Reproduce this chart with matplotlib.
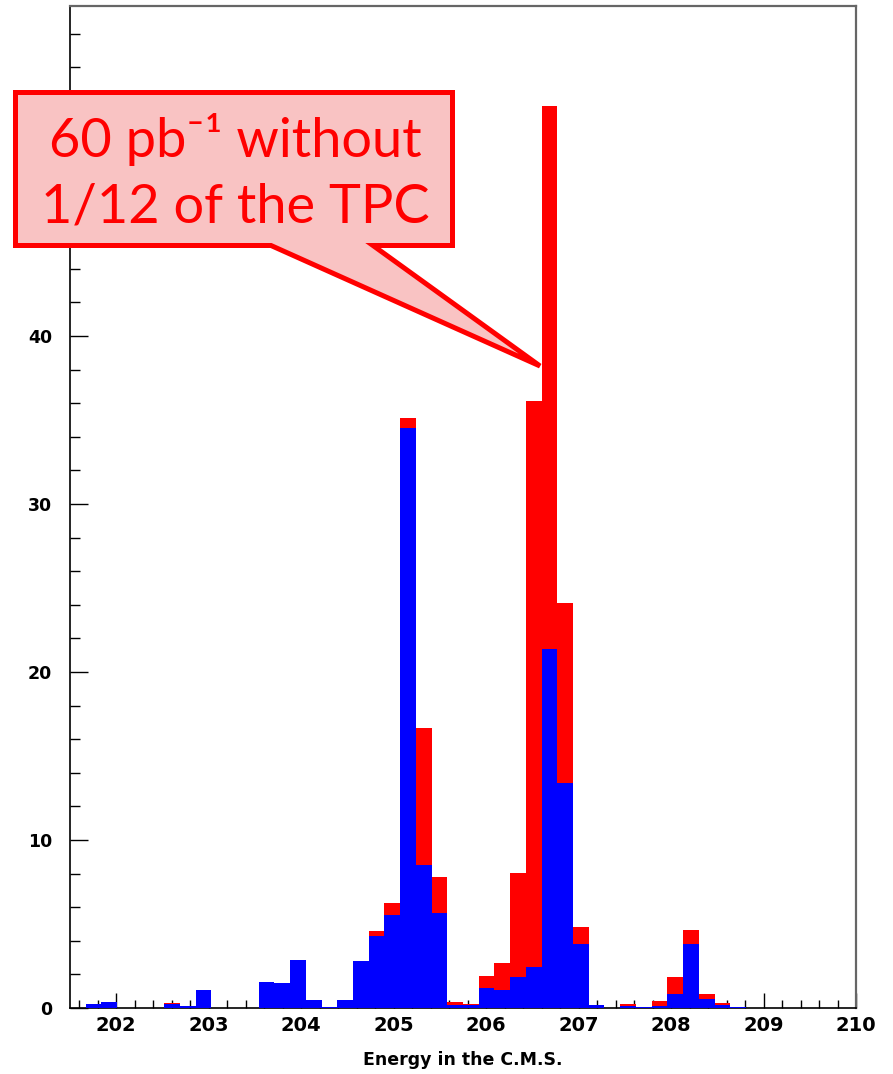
import numpy as np
import matplotlib
matplotlib.use('Agg')
import matplotlib.pyplot as plt
from matplotlib.patches import Polygon

# 50 bins of 0.17 GeV between 201.5 and 210
e_lo, e_hi, nbins = 201.5, 210.0, 50

# all events (red) and the subset with the full TPC (blue)
n_total = [0, 0.24, 0.34, 0, 0, 0, 0.30, 0.12, 1.07, 0,
           0, 0, 1.57, 1.49, 2.86, 0.48, 0.03, 0.50, 2.80, 4.58,
           6.27, 35.1, 16.65, 7.82, 0.36, 0.24, 1.93, 2.70, 8.04, 36.13,
           53.7, 24.13, 4.84, 0.18, 0, 0.22, 0.08, 0.44, 1.87, 4.66,
           0.81, 0.28, 0.04, 0.02, 0, 0, 0, 0, 0, 0]
n_full = [0, 0.24, 0.34, 0, 0, 0, 0.26, 0.12, 1.07, 0,
          0, 0, 1.57, 1.49, 2.86, 0.48, 0.03, 0.50, 2.80, 4.30,
          5.54, 34.55, 8.51, 5.68, 0.16, 0.16, 1.17, 1.07, 1.83, 2.42,
          21.37, 13.41, 3.81, 0.18, 0, 0.12, 0.06, 0.14, 0.83, 3.79,
          0.56, 0.20, 0.04, 0, 0, 0, 0, 0, 0, 0]

xticks = [202, 203, 204, 205, 206, 207, 208, 209, 210]
yticks = [0, 10, 20, 30, 40, 50]
ytick_labels = ['0', '10', '20', '30', '40', '']

W, H = 893, 1074
fig = plt.figure(figsize=(W / 100, H / 100), dpi=100)
ax = fig.add_axes([70 / W, 1 - 1008 / H, (856 - 70) / W, (1008 - 6) / H])

edges = np.linspace(e_lo, e_hi, nbins + 1)
ax.stairs(n_total, edges, fill=True, color='#ff0000', zorder=2)
ax.stairs(n_full, edges, fill=True, color='#0000ff', zorder=3)

ax.set_xlim(e_lo, e_hi)
ax.set_ylim(0, 59.65)

ax.set_xticks(xticks)
ax.set_xticks(np.arange(201.6, 210.0, 0.2), minor=True)
ax.set_yticks(yticks)
ax.set_yticklabels(ytick_labels)
ax.set_yticks(np.arange(0, 60, 2), minor=True)
ax.tick_params(which='both', direction='in', top=False, right=False,
               width=1.0, color='black')
ax.tick_params(axis='y', which='major', length=13, pad=13, labelsize=12.5)
ax.tick_params(axis='y', which='minor', length=7)
ax.tick_params(axis='x', which='major', length=11, pad=6, labelsize=14)
ax.tick_params(axis='x', which='minor', length=6)
for lab in ax.get_xticklabels() + ax.get_yticklabels():
    lab.set_fontweight('bold')

for s in ['left', 'bottom']:
    ax.spines[s].set_color('black')
    ax.spines[s].set_linewidth(1.2)
for s in ['top', 'right']:
    ax.spines[s].set_color('#666666')
    ax.spines[s].set_linewidth(1.6)

fig.text(463 / W, 1 - 1060 / H, 'Energy in the C.M.S.', ha='center', va='center',
         fontsize=12.5, fontweight='bold')

# speech bubble pointing at the 206.7 GeV peak
def px(x, y):
    return (x / W, 1 - y / H)

bubble = [px(15.5, 92.5), px(452.5, 92.5), px(452.5, 245.5), px(373, 245.5),
          px(540, 366), px(271, 245.5), px(15.5, 245.5)]
ax.add_patch(Polygon(bubble, closed=True, transform=fig.transFigure,
                     facecolor='#f9c3c3', edgecolor='#ff0000', linewidth=3.6,
                     joinstyle='miter', clip_on=False, zorder=10))
ax.text(*px(235, 157), '60 pb\u207b\u00b9 without', transform=fig.transFigure,
        ha='center', va='baseline', fontsize=39, color='#ff0000', zorder=11,
        family='Lato')
ax.text(*px(235, 222), '1/12 of the TPC', transform=fig.transFigure,
        ha='center', va='baseline', fontsize=39, color='#ff0000', zorder=11,
        family='Lato')

fig.savefig('out.png', dpi=100)
